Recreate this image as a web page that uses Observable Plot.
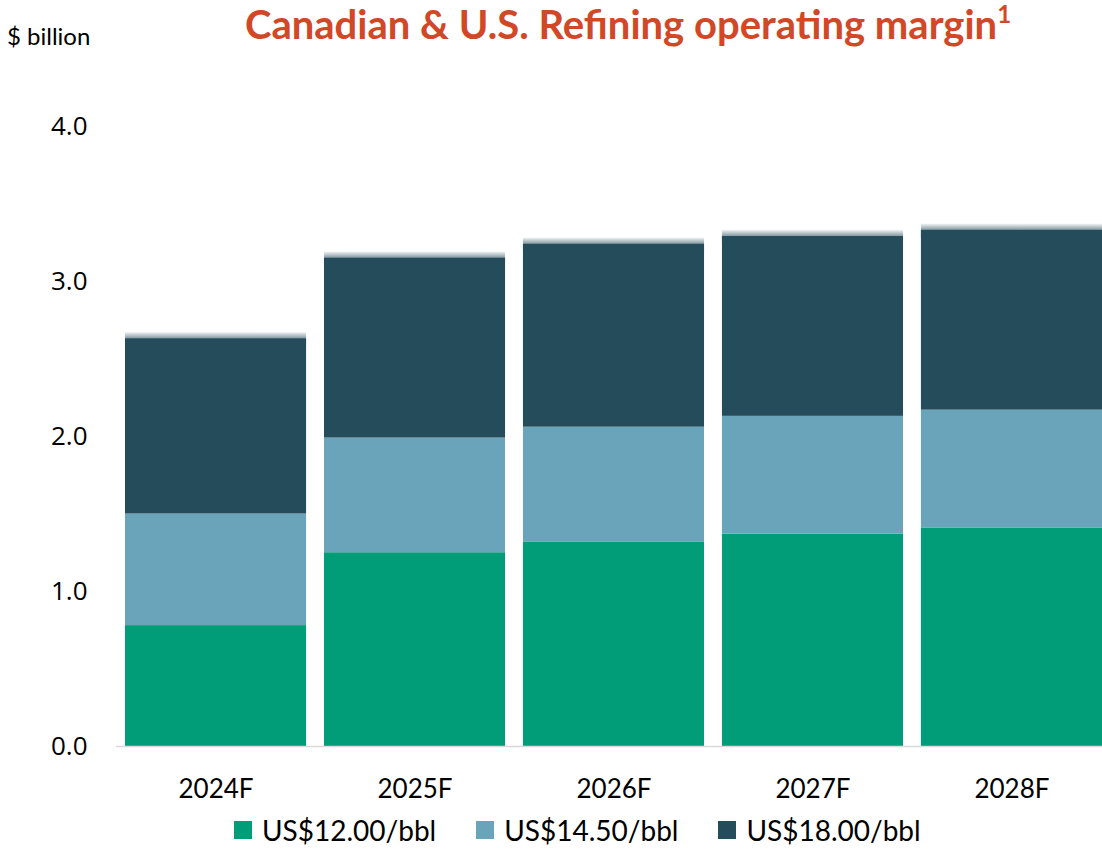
<!DOCTYPE html>
<html>
<head>
<meta charset="utf-8">
<script src="https://cdn.jsdelivr.net/npm/d3@7"></script>
<script src="https://cdn.jsdelivr.net/npm/@observablehq/plot@0.6"></script>
<style>
  html, body { margin: 0; padding: 0; background: #fff; }
  #wrap { position: relative; width: 1102px; height: 850px; overflow: hidden; }
  #header { position: relative; height: 60px; }
  #unit { position: absolute; left: 7px; top: 21px; font-family: Lato, sans-serif; font-size: 24px; color: #000; white-space: nowrap; }
  #title { position: absolute; left: 245px; top: 0px; font-family: Lato, sans-serif; font-weight: 700; font-size: 40px; color: #D24726; white-space: nowrap; }
  #title sup { font-size: 0.6em; vertical-align: 0; position: relative; top: -0.65em; }
  #legend { display: flex; align-items: center; padding-left: 234px; font-family: Lato, sans-serif; font-size: 28px; color: #000; height: 40px; }
  .item { display: flex; align-items: center; margin-right: 40px; }
  .sw { width: 18px; height: 18px; margin-right: 10px; }
</style>
</head>
<body>
<div id="wrap">
  <div id="header">
    <div id="unit">$ billion</div>
    <div id="title">Canadian &amp; U.S. Refining operating margin<sup>1</sup></div>
  </div>
  <div id="chart"></div>
  <div id="legend"></div>
</div>
<script>
// Categories
const years = ["2024F", "2025F", "2026F", "2027F", "2028F"];
// Series (cumulative operating margin, $ billion, at each refining margin assumption)
const seriesNames = ["US$12.00/bbl", "US$14.50/bbl", "US$18.00/bbl"];
const margin12 = [0.78, 1.25, 1.32, 1.37, 1.41];
const margin1450 = [1.50, 1.99, 2.06, 2.13, 2.17];
const margin18 = [2.63, 3.15, 3.24, 3.29, 3.33];
const seriesColors = ["#009D78", "#6AA4BA", "#254C5B"];
const yTicks = [0, 1, 2, 3, 4];

const levels = [margin12, margin1450, margin18];
const rows = [];
years.forEach((yr, i) => {
  levels.forEach((arr, s) => {
    rows.push({
      year: yr,
      series: seriesNames[s],
      y1: s === 0 ? 0 : levels[s - 1][i],
      y2: arr[i]
    });
  });
});
const topRows = rows.filter(d => d.series === seriesNames[2]);
const FADE_MARKER = "#123456";

const chart = Plot.plot({
  width: 1102,
  height: 750,
  marginLeft: 116,
  marginRight: 0,
  marginTop: 66,
  marginBottom: 64,
  style: { background: "#fff", color: "#000", overflow: "visible" },
  x: { domain: years, paddingInner: 0.09, paddingOuter: 0.0226, align: 1, round: false, label: null },
  y: { domain: [0, 4], label: null },
  color: { domain: seriesNames, range: seriesColors },
  marks: [
    Plot.barY(rows, { x: "year", y1: "y1", y2: "y2", fill: "series" }),
    Plot.barY(topRows, { x: "year", y1: d => d.y2 - 0.045, y2: d => d.y2 + 0.04, fill: FADE_MARKER }),
    Plot.ruleY([0], { stroke: "#d9d9d9", strokeWidth: 1.5 }),
    Plot.axisY({ ticks: yTicks, tickFormat: d3.format(".1f"), tickSize: 0, tickPadding: 29, fontSize: 26, fontFamily: "Open Sans", label: null }),
    Plot.axisX({ tickSize: 0, tickPadding: 33, fontSize: 26, fontFamily: "Lato", label: null })
  ]
});
// soft top edge gradient like the reference
const svg = d3.select(chart);
const grad = svg.insert("defs", ":first-child").append("linearGradient")
  .attr("id", "topfade").attr("x1", 0).attr("y1", 0).attr("x2", 0).attr("y2", 1);
grad.append("stop").attr("offset", "0%").attr("stop-color", "#254C5B").attr("stop-opacity", 0.06);
grad.append("stop").attr("offset", "45%").attr("stop-color", "#254C5B").attr("stop-opacity", 0.55);
grad.append("stop").attr("offset", "100%").attr("stop-color", "#254C5B").attr("stop-opacity", 1);
svg.selectAll("[fill='" + FADE_MARKER + "']").attr("fill", "url(#topfade)");
svg.selectAll("[fill='" + FADE_MARKER.toUpperCase() + "']").attr("fill", "url(#topfade)");
document.getElementById("chart").appendChild(chart);

const legend = document.getElementById("legend");
seriesNames.forEach((name, i) => {
  const item = document.createElement("div");
  item.className = "item";
  const sw = document.createElement("div");
  sw.className = "sw";
  sw.style.background = seriesColors[i];
  const t = document.createElement("span");
  t.textContent = name;
  item.appendChild(sw);
  item.appendChild(t);
  legend.appendChild(item);
});
</script>
</body>
</html>
